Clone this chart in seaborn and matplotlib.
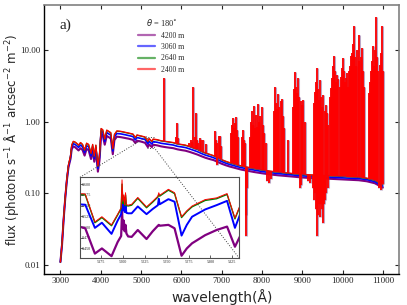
import numpy as np
import pandas as pd
import seaborn as sns
import matplotlib
matplotlib.use("Agg")
import matplotlib.pyplot as plt
from matplotlib.lines import Line2D
from matplotlib.ticker import FormatStrFormatter, NullLocator, FixedLocator
from mpl_toolkits.axes_grid1.inset_locator import mark_inset

# --- continuum ------------------------------------------------------------
cont_wave = [3000, 3040, 3080, 3120, 3160, 3200, 3250, 3280, 3320, 3360,
             3400, 3450, 3500, 3550, 3600, 3650, 3700, 3760, 3800, 3840,
             3880, 3930, 3970, 4010, 4050, 4100, 4150, 4200, 4250, 4300,
             4340, 4400, 4500, 4600, 4700, 4800, 4860, 4900, 5000, 5100,
             5170, 5200, 5270, 5300, 5400, 5500, 5600, 5700, 5800, 5900,
             6000, 6100, 6200, 6300, 6400, 6500, 6600, 6700, 6800, 6900,
             7000, 7100, 7200, 7300, 7400, 7500, 7700, 7800, 8000, 8200,
             8400, 8600, 8800, 9000, 9200, 9400, 9600, 9800, 10000, 10200,
             10400, 10600, 10800, 11000]

flux_2400 = [0.011, 0.020, 0.045, 0.090, 0.160, 0.250, 0.330, 0.470, 0.530, 0.520,
             0.500, 0.470, 0.510, 0.480, 0.400, 0.500, 0.480, 0.360, 0.480, 0.330,
             0.470, 0.240, 0.340, 0.800, 0.770, 0.570, 0.760, 0.730, 0.700, 0.420,
             0.660, 0.740, 0.730, 0.710, 0.690, 0.670, 0.600, 0.650, 0.630, 0.610,
             0.530, 0.580, 0.530, 0.570, 0.560, 0.540, 0.530, 0.520, 0.510, 0.490,
             0.480, 0.470, 0.450, 0.430, 0.410, 0.385, 0.365, 0.350, 0.335, 0.315,
             0.295, 0.280, 0.268, 0.258, 0.248, 0.240, 0.228, 0.222, 0.212, 0.204,
             0.198, 0.193, 0.188, 0.184, 0.181, 0.179, 0.177, 0.175, 0.173, 0.171,
             0.168, 0.163, 0.153, 0.133]

flux_2640 = [0.011, 0.020, 0.045, 0.089, 0.158, 0.248, 0.327, 0.466, 0.525, 0.515,
             0.495, 0.466, 0.505, 0.475, 0.396, 0.495, 0.475, 0.357, 0.475, 0.327,
             0.465, 0.238, 0.337, 0.792, 0.762, 0.565, 0.752, 0.723, 0.693, 0.416,
             0.653, 0.733, 0.723, 0.703, 0.683, 0.663, 0.594, 0.644, 0.624, 0.604,
             0.525, 0.574, 0.525, 0.564, 0.554, 0.535, 0.525, 0.515, 0.505, 0.485,
             0.475, 0.465, 0.446, 0.426, 0.406, 0.381, 0.361, 0.347, 0.332, 0.312,
             0.292, 0.277, 0.265, 0.255, 0.246, 0.238, 0.226, 0.220, 0.210, 0.202,
             0.196, 0.191, 0.186, 0.182, 0.179, 0.177, 0.175, 0.173, 0.171, 0.169,
             0.166, 0.161, 0.151, 0.132]

flux_3060 = [0.011, 0.020, 0.044, 0.088, 0.155, 0.240, 0.315, 0.440, 0.490, 0.480,
             0.462, 0.435, 0.470, 0.443, 0.370, 0.460, 0.443, 0.332, 0.443, 0.305,
             0.434, 0.222, 0.315, 0.740, 0.710, 0.527, 0.700, 0.672, 0.645, 0.388,
             0.608, 0.680, 0.672, 0.655, 0.636, 0.617, 0.553, 0.598, 0.580, 0.562,
             0.488, 0.532, 0.484, 0.523, 0.514, 0.497, 0.488, 0.479, 0.470, 0.452,
             0.443, 0.434, 0.416, 0.398, 0.380, 0.358, 0.340, 0.327, 0.313, 0.295,
             0.277, 0.263, 0.252, 0.243, 0.234, 0.227, 0.216, 0.211, 0.201, 0.194,
             0.188, 0.184, 0.179, 0.175, 0.172, 0.170, 0.168, 0.166, 0.164, 0.162,
             0.160, 0.155, 0.145, 0.126]

flux_4200 = [0.011, 0.019, 0.043, 0.085, 0.150, 0.230, 0.300, 0.410, 0.450, 0.440,
             0.420, 0.395, 0.425, 0.400, 0.335, 0.415, 0.400, 0.300, 0.400, 0.275,
             0.390, 0.200, 0.285, 0.670, 0.640, 0.475, 0.630, 0.605, 0.580, 0.350,
             0.550, 0.615, 0.605, 0.590, 0.575, 0.555, 0.500, 0.540, 0.525, 0.505,
             0.440, 0.480, 0.440, 0.475, 0.465, 0.450, 0.440, 0.432, 0.425, 0.410,
             0.400, 0.392, 0.378, 0.362, 0.346, 0.328, 0.312, 0.300, 0.290, 0.274,
             0.258, 0.246, 0.236, 0.228, 0.220, 0.213, 0.203, 0.198, 0.190, 0.183,
             0.178, 0.174, 0.170, 0.166, 0.163, 0.161, 0.160, 0.158, 0.156, 0.154,
             0.152, 0.147, 0.138, 0.120]

# --- sky emission lines (wavelength, bottom, peak) -------------------------
emis_wave = [5577, 5870, 5890, 5915, 6200, 6230, 6260, 6300, 6330, 6364,
             6390, 6420, 6465, 6500, 6550, 6600, 6830, 6860, 6890, 6925,
             6955, 6980, 7240, 7265, 7286, 7310, 7330, 7345, 7370, 7395,
             7495, 7520, 7545, 7570, 7710, 7730, 7750, 7770, 7795, 7820,
             7850, 7880, 7908, 7935, 7960, 7992, 8020, 8060, 8090, 8290,
             8323, 8345, 8370, 8405, 8430, 8465, 8490, 8520, 8550, 8654,
             8770, 8795, 8821, 8850, 8880, 8903, 8930, 8960, 8990, 9028,
             9060, 9290, 9315, 9340, 9361, 9390, 9420, 9443, 9470, 9500,
             9525, 9555, 9590, 9620, 9650, 9700, 9716, 9740, 9765, 9791,
             9815, 9845, 9870, 9898, 9925, 9950, 9980, 10007, 10030, 10060,
             10085, 10107, 10135, 10160, 10190, 10214, 10240, 10265, 10289, 10315,
             10340, 10370, 10396, 10420, 10450, 10480, 10510, 10540, 10650, 10680,
             10704, 10730, 10754, 10780, 10810, 10836, 10860, 10890, 10920, 10950,
             10978, 10995]
emis_low = [0.53, 0.50, 0.49, 0.49, 0.45, 0.44, 0.44, 0.43, 0.42, 0.42,
            0.41, 0.41, 0.39, 0.385, 0.375, 0.365, 0.33, 0.325, 0.32, 0.31,
            0.305, 0.30, 0.265, 0.262, 0.26, 0.257, 0.255, 0.253, 0.25, 0.248,
            0.24, 0.238, 0.236, 0.235, 0.228, 0.227, 0.226, 0.225, 0.223, 0.222,
            0.22, 0.218, 0.217, 0.216, 0.215, 0.213, 0.211, 0.209, 0.208, 0.202,
            0.201, 0.200, 0.199, 0.198, 0.197, 0.196, 0.195, 0.194, 0.194, 0.192,
            0.189, 0.188, 0.187, 0.187, 0.186, 0.186, 0.185, 0.184, 0.184, 0.183,
            0.183, 0.18, 0.18, 0.18, 0.179, 0.179, 0.179, 0.179, 0.178, 0.178,
            0.178, 0.177, 0.177, 0.177, 0.176, 0.176, 0.176, 0.175, 0.175, 0.175,
            0.175, 0.174, 0.174, 0.174, 0.174, 0.173, 0.173, 0.173, 0.172, 0.172,
            0.172, 0.171, 0.171, 0.171, 0.171, 0.170, 0.170, 0.170, 0.169, 0.169,
            0.168, 0.168, 0.167, 0.167, 0.166, 0.166, 0.165, 0.164, 0.161, 0.160,
            0.159, 0.157, 0.156, 0.155, 0.154, 0.152, 0.150, 0.148, 0.145, 0.142,
            0.138, 0.134]
emis_peak = [4.1, 0.60, 0.95, 0.58, 0.50, 0.55, 0.52, 3.0, 0.60, 1.3,
             0.55, 0.50, 0.59, 0.55, 0.56, 0.48, 0.74, 0.55, 0.50, 0.62,
             0.62, 0.45, 0.70, 0.90, 1.12, 0.80, 0.95, 1.17, 0.75, 0.60,
             0.60, 0.77, 0.55, 0.50, 0.60, 1.00, 1.41, 0.90, 1.62, 0.80,
             1.25, 0.85, 1.75, 1.00, 1.20, 1.57, 0.90, 0.70, 0.50, 1.40,
             3.00, 1.80, 1.50, 2.40, 1.60, 1.90, 2.07, 1.20, 0.80, 0.55,
             1.60, 2.80, 4.90, 3.00, 2.50, 4.00, 2.20, 1.90, 1.70, 2.00,
             1.00, 1.80, 2.60, 3.50, 5.55, 2.80, 2.00, 3.80, 2.20, 1.60,
             2.36, 1.40, 1.70, 1.30, 0.90, 2.20, 2.92, 4.00, 6.00, 8.30,
             5.00, 3.50, 4.50, 3.94, 3.00, 4.20, 5.50, 7.70, 5.00, 3.50,
             4.00, 4.70, 3.00, 5.00, 6.00, 8.10, 9.00, 12.0, 21.6, 8.00,
             6.00, 10.0, 16.2, 7.00, 8.00, 10.6, 5.00, 3.00, 2.50, 3.50,
             5.00, 7.00, 11.2, 6.00, 10.0, 28.2, 8.00, 5.00, 6.20, 9.00,
             21.6, 5.00]

# --- telluric absorption (wavelength, dip, continuum) ----------------------
abs_wave = [6875, 7600, 7615, 7635, 8130, 8170, 8230, 8950, 8980, 9140,
            9194, 9260, 9300, 9320, 9340, 9361, 9380, 9405, 9425, 9443,
            9465, 9485, 9505, 9525, 9545, 9570, 9600, 9630, 10900, 10950]
abs_low = [0.25, 0.025, 0.05, 0.12, 0.15, 0.14, 0.16, 0.118, 0.13, 0.15,
           0.14, 0.12, 0.08, 0.10, 0.06, 0.025, 0.05, 0.07, 0.09, 0.047,
           0.07, 0.06, 0.09, 0.039, 0.07, 0.08, 0.10, 0.12, 0.12, 0.11]
abs_high = [0.32, 0.235, 0.232, 0.23, 0.21, 0.205, 0.203, 0.184, 0.184, 0.181,
            0.18, 0.18, 0.18, 0.18, 0.18, 0.179, 0.179, 0.179, 0.179, 0.179,
            0.178, 0.178, 0.178, 0.178, 0.177, 0.177, 0.177, 0.177, 0.147, 0.142]

# --- zoomed region around Mg b -------------------------------------------
inset_wave = [5150, 5157, 5168, 5176, 5187, 5194, 5198, 5199, 5200, 5201,
              5202, 5203, 5204, 5206, 5210, 5217, 5227, 5234, 5240, 5241,
              5242, 5252, 5259, 5267, 5273, 5279, 5294, 5307, 5319, 5328, 5334]
inset_2400 = [0.578, 0.577, 0.512, 0.524, 0.505, 0.530, 0.545, 0.610, 0.560, 0.575,
              0.552, 0.580, 0.552, 0.551, 0.553, 0.569, 0.547, 0.560, 0.572, 0.580,
              0.574, 0.588, 0.580, 0.524, 0.538, 0.549, 0.564, 0.568, 0.578, 0.521, 0.551]
inset_2640 = [0.576, 0.575, 0.510, 0.522, 0.503, 0.528, 0.543, 0.600, 0.555, 0.570,
              0.550, 0.575, 0.550, 0.549, 0.551, 0.567, 0.545, 0.558, 0.570, 0.576,
              0.572, 0.586, 0.578, 0.522, 0.536, 0.547, 0.562, 0.566, 0.576, 0.519, 0.549]
inset_3060 = [0.553, 0.552, 0.498, 0.510, 0.484, 0.515, 0.530, 0.560, 0.540, 0.555,
              0.535, 0.550, 0.533, 0.532, 0.532, 0.548, 0.530, 0.542, 0.551, 0.566,
              0.553, 0.565, 0.559, 0.480, 0.505, 0.524, 0.541, 0.551, 0.561, 0.498, 0.530]
inset_4200 = [0.501, 0.497, 0.438, 0.450, 0.432, 0.465, 0.479, 0.536, 0.495, 0.515,
              0.490, 0.505, 0.485, 0.478, 0.477, 0.493, 0.472, 0.490, 0.503, 0.505,
              0.503, 0.505, 0.497, 0.433, 0.450, 0.462, 0.481, 0.493, 0.501, 0.454, 0.479]

altitudes = ["4200 m", "3060 m", "2640 m", "2400 m"]
colors = {"4200 m": "#800080", "3060 m": "#0000ff", "2640 m": "#008000", "2400 m": "#ff0000"}

sns.set_theme(style="ticks")
plt.rcParams["font.family"] = ["DejaVu Sans"]
plt.rcParams["mathtext.fontset"] = "dejavusans"
serif = "Liberation Serif"

fig = plt.figure(figsize=(4.07, 3.05), dpi=100)
ax = fig.add_axes([0.1088, 0.1016, 0.8715, 0.882])

cont = pd.DataFrame({
    "wave": cont_wave * 4,
    "flux": flux_4200 + flux_3060 + flux_2640 + flux_2400,
    "altitude": np.repeat(altitudes, len(cont_wave)),
})
sns.lineplot(data=cont, x="wave", y="flux", hue="altitude", hue_order=altitudes,
             palette=colors, size="altitude", size_order=altitudes,
             sizes={"4200 m": 1.5, "3060 m": 1.2, "2640 m": 0.9, "2400 m": 0.9},
             estimator=None, sort=False, legend=False, ax=ax)

# lines: faint purple halo (higher altitude) under the red 2400 m strokes
ax.vlines(emis_wave, emis_low, emis_peak, colors="#6b3b80", lw=2.2, alpha=0.45, zorder=2.5)
ax.vlines(abs_wave, abs_low, abs_high, colors="#6b3b80", lw=2.2, alpha=0.45, zorder=2.5)
ax.vlines(emis_wave, emis_low, emis_peak, colors="#ff0000", lw=1.3, zorder=3)
ax.vlines(abs_wave, abs_low, abs_high, colors="#ff0000", lw=1.3, zorder=3)

ax.set_yscale("log")
ax.set_xlim(2600, 11400)
ax.set_ylim(0.0075, 42)
ax.set_xticks([3000, 4000, 5000, 6000, 7000, 8000, 9000, 10000, 11000])
ax.yaxis.set_major_locator(FixedLocator([0.01, 0.1, 1, 10]))
ax.yaxis.set_major_formatter(FormatStrFormatter("%.2f"))
ax.yaxis.set_minor_locator(NullLocator())
ax.tick_params(direction="in", top=True, right=True, length=3, width=0.8,
               labelsize=6.5, labelfontfamily=serif)
ax.tick_params(axis="x", pad=2)
ax.tick_params(axis="y", pad=3)
for side in ["left", "bottom"]:
    ax.spines[side].set_color("black")
    ax.spines[side].set_linewidth(1.0)
for side in ["top", "right"]:
    ax.spines[side].set_color("0.5")
    ax.spines[side].set_linewidth(1.2)

ax.set_xlabel("wavelength(Å)", fontsize=10, labelpad=3)
ax.set_ylabel(r"flux (photons s$^{-1}$ Å$^{-1}$ arcsec$^{-2}$ m$^{-2}$)", fontsize=8.5)
ax.yaxis.set_label_coords(-0.066, 0.5)
ax.text(0.044, 0.926, "a)", transform=ax.transAxes, fontsize=11, family=serif, va="center")

handles = [Line2D([], [], color=colors[a], lw=1.6, alpha=0.6) for a in altitudes]
leg = ax.legend(handles, altitudes, title=r"$\theta$ = 180$^{\circ}$", loc="upper left",
                bbox_to_anchor=(0.25, 0.975), frameon=False,
                prop={"family": serif, "size": 5.5}, handlelength=2.2,
                handletextpad=0.8, labelspacing=0.45, borderpad=0.2)
leg.get_title().set_fontsize(6)
leg.get_title().set_fontfamily(serif)

# inset
axins = fig.add_axes([0.1966, 0.1531, 0.3914, 0.2656])
ins = pd.DataFrame({
    "wave": inset_wave * 4,
    "flux": inset_4200 + inset_3060 + inset_2640 + inset_2400,
    "altitude": np.repeat(altitudes, len(inset_wave)),
})
sns.lineplot(data=ins, x="wave", y="flux", hue="altitude", hue_order=altitudes,
             palette=colors, size="altitude", size_order=altitudes,
             sizes={"4200 m": 1.6, "3060 m": 1.4, "2640 m": 1.0, "2400 m": 0.7},
             estimator=None, sort=False, legend=False, ax=axins)
axins.set_xlim(5151, 5333)
axins.set_ylim(0.427, 0.616)
axins.set_xticks([5175, 5200, 5225, 5250, 5275, 5300, 5325])
axins.set_yticks([0.450, 0.475, 0.500, 0.525, 0.550, 0.575, 0.600])
axins.yaxis.set_major_formatter(FormatStrFormatter("%.3f"))
axins.set_xlabel("")
axins.set_ylabel("")
axins.tick_params(direction="in", length=2, width=0.5, labelsize=3, labelfontfamily=serif)
axins.tick_params(axis="x", pad=1.5)
axins.tick_params(axis="y", pad=-1.5)
for lbl in axins.get_yticklabels():
    lbl.set_horizontalalignment("left")
for sp in axins.spines.values():
    sp.set_color("0.3")
    sp.set_linewidth(0.8)

mark_inset(ax, axins, loc1=2, loc2=4, fc="none", ec="0.25", ls=":", lw=0.7)

fig.savefig("out.png", dpi=100)
